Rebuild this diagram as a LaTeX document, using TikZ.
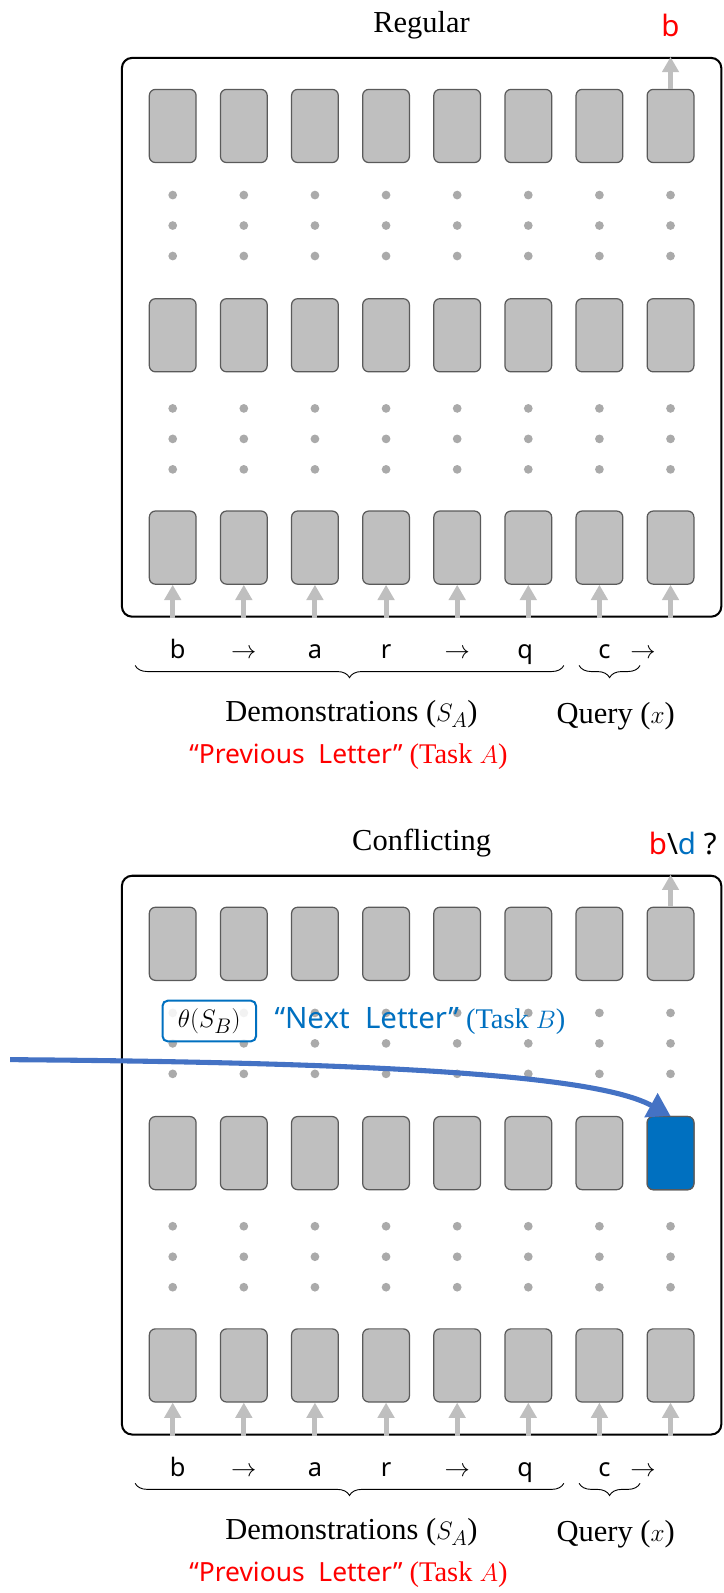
\documentclass[tikz,border=0pt]{standalone}
\usepackage{fontspec}
\setmainfont{Liberation Serif}
\newfontfamily\tokfont{Noto Sans}
\usetikzlibrary{
    arrows.meta,
    positioning,
    decorations.pathreplacing
}
\definecolor{cellgray}{RGB}{191,191,191}
\definecolor{celledge}{RGB}{90,90,90}
\definecolor{dotgray}{RGB}{170,170,170}
\definecolor{taskred}{RGB}{255,0,0}
\definecolor{taskblue}{RGB}{0,112,192}
\definecolor{steerblue}{RGB}{68,114,196}

\begin{document}
\begin{tikzpicture}[
    x=1pt, y=-1pt,
    cell/.style={
        rectangle, rounded corners=6pt, draw=celledge, line width=1.2pt,
        fill=cellgray, minimum width=46pt, minimum height=72pt, inner sep=0pt
    },
    frame/.style={
        rectangle, rounded corners=10pt, draw, line width=2pt,
        minimum width=590pt, minimum height=550pt, inner sep=0pt
    },
    feed/.style={-{Triangle[width=16pt,length=15pt]}, line width=5pt, cellgray},
    tok/.style={font=\tokfont\fontsize{25}{30}\selectfont, inner sep=0pt},
    title/.style={font=\fontsize{30}{34}\selectfont, inner sep=0pt},
    caption/.style={font=\fontsize{30}{34}\selectfont, inner sep=0pt},
    brace/.style={decorate, decoration={brace, amplitude=12pt, mirror}, line width=0.9pt},
    steer/.style={-{Triangle[width=26pt,length=22pt]}, line width=5pt, steerblue}
]
\useasboundingbox (0,0) rectangle (712,1568);

% Both panels (top: regular, bottom: conflicting)
\foreach \p/\dy/\ttl in {A/0/Regular, B/805/Conflicting} {
\begin{scope}[shift={(0,\dy)}]
    \node[frame] (\p-frame) at (415,332) {};
    \node[title] (\p-title) at (415,25) {\ttl};

    % Layers of hidden states
    \foreach \i in {1,...,8} {
        \pgfmathsetmacro\cx{100+70*\i}
        \node[cell] (\p-1-\i) at (\cx,124) {};
        \node[cell] (\p-2-\i) at (\cx,330) {};
        \node[cell] (\p-3-\i) at (\cx,539) {};
        \foreach \yy in {192,222,252,402,432,462}
            \fill[dotgray] (\cx,\yy) circle (4.3pt);
        \draw[feed] (\p-3-\i.south |- \p-frame.south) -- (\p-3-\i.south);
    }
    \draw[feed] (\p-1-8.north) -- (\p-1-8.north |- \p-frame.north);

    % Input tokens
    \foreach \tx/\tt [count=\k] in {175/b, 240/$\rightarrow$, 310/a, 380/r,
                                    450/$\rightarrow$, 517/q, 595/c, 633/$\rightarrow$}
        \node[tok, anchor=base] (\p-tok-\k) at (\tx,648) {\tt};

    % Braces and captions
    \draw[brace] (133,655) -- (555,655);
    \draw[brace] (570,655) -- (630,655);
    \node[caption] (\p-demo) at (346,703) {Demonstrations ($S_A$)};
    \node[caption] (\p-query) at (606,705) {Query ($x$)};
    \node[caption, font=\fontsize{28}{32}\selectfont, text=taskred] (\p-task) at (343,745)
        {{\tokfont\fontsize{26}{30}\selectfont “Previous\ \ Letter”} (Task $A$)};
\end{scope}
}

% Outputs
\node[tok, font=\tokfont\fontsize{29}{34}\selectfont, text=taskred] (A-out) at (660,25) {b};
\node[tok, font=\tokfont\fontsize{29}{34}\selectfont] (B-out) at (672,830)
    {\textcolor{taskred}{b}\textbackslash\textcolor{taskblue}{d} ?};

% Task vector injected into the query position
\node[cell, fill=taskblue] (steered) at (B-2-8) {};
\node[rectangle, rounded corners=5pt, draw=taskblue, line width=2pt, fill=white,
      fill opacity=0.85, text opacity=1, minimum width=92pt, minimum height=40pt,
      inner sep=0pt, font=\fontsize{28}{32}\selectfont] (theta) at (206,1005) {$\theta(S_B)$};
\node[caption, font=\fontsize{28}{32}\selectfont, text=taskblue, right=17pt of theta] (next)
    {{\tokfont\fontsize{29}{34}\selectfont “Next\ \ Letter”} (Task $B$)};
\coordinate (src) at (10,1043);
\draw[steer] (src) .. controls (400,1046) and (590,1060) .. (steered.north);

\end{tikzpicture}
\end{document}
